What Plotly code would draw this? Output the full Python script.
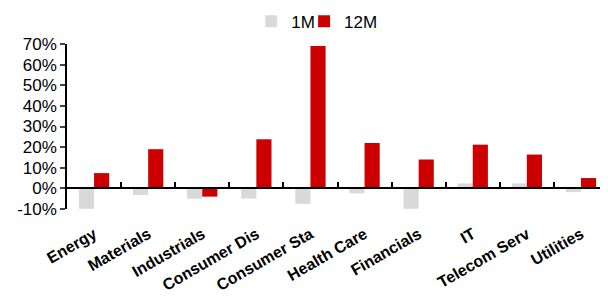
import plotly.graph_objects as go

categories = ["Energy", "Materials", "Industrials", "Consumer Dis", "Consumer Sta",
              "Health Care", "Financials", "IT", "Telecom Serv", "Utilities"]
m1 = [-9.9, -3.2, -5.0, -4.9, -7.5, -2.4, -9.9, 2.4, 2.4, -1.8]
m12 = [7.4, 19.0, -4.0, 23.8, 69.0, 22.0, 14.0, 21.2, 16.4, 5.0]
y_ticks = [-10, 0, 10, 20, 30, 40, 50, 60, 70]
y_labels = [f"{v}%" for v in y_ticks]

fig = go.Figure()
fig.add_trace(go.Bar(x=categories, y=m1, name="1M", legend="legend",
                     marker=dict(color="#d9d9d9", line=dict(width=0))))
fig.add_trace(go.Bar(x=categories, y=m12, name="12M", legend="legend2",
                     marker=dict(color="#cc0000", line=dict(width=0))))
# invisible trace for the zero-positioned tick axis
fig.add_trace(go.Scatter(x=categories, y=[0]*len(categories), xaxis="x2", showlegend=False,
                         mode="markers", marker=dict(opacity=0), hoverinfo="skip"))

leg_common = dict(orientation="h", xanchor="left", xref="container",
                  y=0.955, yanchor="middle", yref="container",
                  font=dict(size=17), itemwidth=30, bgcolor="rgba(0,0,0,0)")

fig.update_layout(
    width=608, height=305,
    margin=dict(l=59, r=8, t=36, b=104, autoexpand=False),
    plot_bgcolor="white", paper_bgcolor="white",
    font=dict(family="Liberation Sans, Arial", size=16, color="black"),
    barmode="group", bargap=0.44, bargroupgap=0,
    showlegend=True,
    legend=dict(x=0.400, **leg_common),
    legend2=dict(x=0.487, **leg_common),
    xaxis=dict(showline=False, ticks="", tickangle=-30, automargin=False,
               tickfont=dict(size=16, family="Liberation Sans, Arial", weight="bold"),
               ticklabelstandoff=12,
               showgrid=False, range=[-0.5, 9.5]),
    xaxis2=dict(overlaying="x", anchor="free", position=10/80, range=[-0.5, 9.5],
                showticklabels=False, showline=True, linecolor="black", linewidth=1.5,
                ticks="inside", ticklen=6, tickwidth=1.5, tickcolor="black",
                tickson="boundaries", showgrid=False, automargin=False),
    yaxis=dict(range=[-10, 70], tickvals=y_ticks, ticktext=y_labels, showline=True,
               linecolor="black", linewidth=1.5, ticks="outside", ticklen=5,
               tickwidth=1.5, showgrid=False, zeroline=False, automargin=False,
               tickfont=dict(size=17)),
)
fig.write_html("out.html")
